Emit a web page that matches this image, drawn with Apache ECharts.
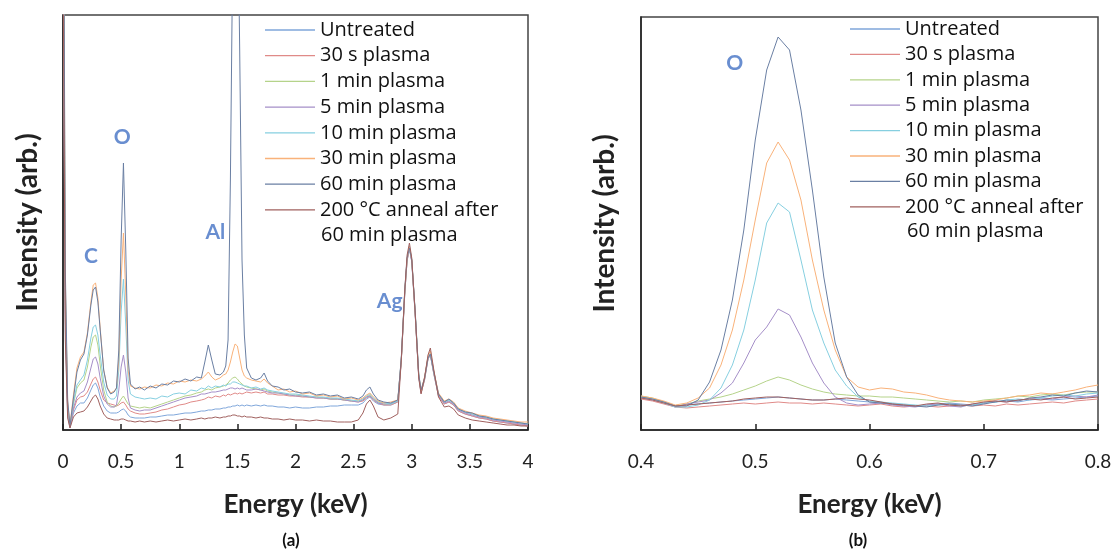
<!DOCTYPE html>
<html><head><meta charset="utf-8">
<script src="https://cdn.jsdelivr.net/npm/echarts@6/dist/echarts.min.js"></script>
<style>html,body{margin:0;padding:0;background:#fff}#c{width:1118px;height:552px}</style>
</head><body><div id="c"></div>
<script>
// ---------- DATA ----------
const seriesNames = ['Untreated','30 s plasma','1 min plasma','5 min plasma','10 min plasma','30 min plasma','60 min plasma','200 °C anneal after 60 min plasma'];

// Panel (a): energy grid (keV)
const energyA = [
 0.00,0.02,0.04,0.06,0.09,0.12,0.15,0.18,0.21,0.24,
 0.26,0.28,0.30,0.32,0.35,0.38,0.41,0.44,0.46,0.48,
 0.50,0.52,0.54,0.56,0.58,0.62,0.66,0.70,0.75,0.80,
 0.85,0.90,0.95,1.00,1.05,1.10,1.15,1.19,1.22,1.25,
 1.28,1.31,1.35,1.38,1.40,1.42,1.44,1.46,1.48,1.50,
 1.52,1.54,1.56,1.58,1.62,1.66,1.70,1.73,1.76,1.80,
 1.85,1.90,1.95,2.00,2.06,2.12,2.18,2.24,2.30,2.36,
 2.42,2.48,2.54,2.58,2.61,2.64,2.67,2.71,2.76,2.82,
 2.88,2.91,2.94,2.96,2.98,3.00,3.03,3.06,3.08,3.11,
 3.14,3.16,3.19,3.23,3.28,3.32,3.36,3.40,3.46,3.52,
 3.58,3.64,3.70,3.76,3.82,3.88,3.94,4.00];

const untreatedA = [
 500,100,15,2,17,24,27,27,32,40, 45,47,42,33,24,19,17,17,17,18,
 20,21,19,15,13,12,12,12,13,13, 14,15,15,16,17,17,18,19,19,20,
 20,21,21,22,22,23,23,24,24,25, 24,25,24,25,24,25,24,25,24,24,
 23,23,22,23,22,22,23,23,24,24, 25,25,25,27,31,33,29,26,25,25,
 28,69,136,169,181,168,114,53,37,50, 71,75,56,34,26,28,25,19,16,14,
 12,11,9,8,7,6,5,4];
const plasma30sA = [
 520,110,18,3,20,30,33,34,38,46, 51,53,48,40,30,27,26,25,24,25,
 27,28,25,21,19,17,16,16,17,18, 20,21,23,25,26,28,29,30,31,33,
 32,34,33,35,34,36,35,36,37,36, 37,36,37,38,37,38,37,38,36,36,
 35,35,34,34,33,33,32,32,31,31, 30,29,28,29,32,34,30,27,25,25,
 28,69,137,170,182,169,115,54,37,50, 71,75,56,34,26,28,25,19,16,14,
 12,11,9,8,7,6,5,4];
const plasma1mA = [
 580,130,22,3,26,42,47,50,63,83, 93,95,85,65,40,28,24,23,24,27,
 31,34,30,26,24,23,22,23,22,24, 26,28,30,32,34,35,37,38,40,41,
 40,42,43,44,45,47,50,52,53,51, 48,46,44,43,42,41,40,41,39,38,
 37,36,35,35,34,33,33,32,31,31, 30,29,29,30,33,35,31,28,26,26,
 29,70,138,171,183,170,116,55,38,51, 72,76,57,35,28,30,27,21,18,16,
 14,12,11,10,9,8,7,6];
const plasma5mA = [
 550,120,20,3,22,33,37,39,48,62, 71,73,66,52,34,26,23,23,25,40,
 63,75,58,32,22,20,19,20,20,22, 24,26,28,30,32,33,34,36,36,37,
 38,38,39,40,40,41,42,42,41,42, 41,42,41,40,40,41,40,39,38,37,
 37,36,35,34,34,33,32,32,31,31, 30,29,28,30,33,34,31,27,26,26,
 29,70,137,170,182,169,115,54,38,51, 72,76,57,35,27,29,26,20,17,15,
 13,12,10,9,8,7,6,5];
const plasma10mA = [
 600,140,25,4,28,45,50,55,70,92, 103,105,95,75,48,35,31,31,34,60,
 118,151,105,50,36,33,32,31,32,31, 34,33,36,37,36,40,39,42,41,44,
 42,44,43,45,44,46,46,48,48,47, 46,45,44,44,42,43,41,42,40,39,
 38,37,36,36,35,34,33,33,32,32, 31,30,29,31,34,36,32,28,27,26,
 29,71,139,172,184,171,117,56,39,52, 73,77,58,36,28,30,27,21,18,16,
 14,13,11,10,9,8,7,6];
const plasma30mA = [
 650,150,28,5,35,62,73,78,97,128, 145,147,132,102,60,43,37,39,42,70,
 150,197,135,60,44,42,41,43,42,45, 44,47,46,49,48,50,49,51,54,58,
 53,50,52,55,56,60,68,78,86,84, 72,60,54,52,50,49,48,51,47,44,
 40,41,38,39,36,37,34,35,33,34, 31,32,30,32,35,37,33,29,27,28,
 30,70,138,170,183,170,116,55,39,53, 74,79,59,37,29,31,28,22,19,17,
 15,14,12,11,10,9,8,8];
const plasma60mA = [
 700,160,30,4,32,58,70,76,95,125, 140,143,128,100,60,42,36,38,42,80,
 190,267,180,72,46,41,43,40,44,42, 46,45,49,48,51,49,53,52,68,85,
 70,56,55,58,64,90,250,480,600,560, 380,170,95,62,52,50,52,57,49,44,
 43,40,41,38,37,38,35,36,34,35, 32,33,31,34,40,43,36,30,28,27,
 30,72,140,172,182,170,118,56,40,52, 72,76,58,36,28,31,27,21,18,17,
 14,13,11,10,9,8,7,6];
const annealA = [
 480,90,12,2,13,17,18,19,23,29, 33,35,31,24,16,12,11,10,10,10,
 11,11,10,9,9,8,9,8,9,8, 9,10,9,10,11,10,11,12,11,12,
 12,13,12,13,13,14,14,15,15,14, 14,13,14,13,13,12,13,12,12,11,
 11,10,11,10,10,9,10,9,9,8, 8,8,10,17,26,30,24,13,10,12,
 16,70,140,175,187,172,116,52,36,52, 75,82,60,33,23,24,21,15,12,10,
 9,8,7,6,5,5,4,4];

// Panel (b): O peak region
const energyB = [0.40,0.41,0.42,0.43,0.44,0.45,0.46,0.47,0.48,0.49,
 0.50,0.51,0.52,0.53,0.54,0.55,0.56,0.57,0.58,0.59,
 0.60,0.61,0.62,0.63,0.64,0.65,0.66,0.67,0.68,0.69,
 0.70,0.71,0.72,0.73,0.74,0.75,0.76,0.77,0.78,0.79,0.80];
const untreatedB = [33,31,28,24,25,26,27,28,29,30, 31,32,33,32,31,30,30,31,30,29, 28,27,26,24,24,25,26,27,26,25, 27,28,29,28,30,31,30,31,32,33, 34];
const plasma30sB = [31,29,26,23,22,23,24,25,26,27, 26,27,28,27,27,26,27,26,25,24, 25,26,24,23,24,24,23,24,25,24, 25,24,26,25,26,27,28,27,29,30, 31];
const plasma1mB  = [34,32,28,24,26,29,31,33,36,40, 44,49,53,50,45,41,38,36,35,34, 34,33,33,32,31,30,29,28,29,28, 30,31,32,34,33,35,36,35,37,38, 38];
const plasma5mB  = [32,30,27,23,26,28,30,37,47,67, 90,103,121,115,93,67,47,33,27,25, 26,27,25,24,23,25,26,24,23,26, 27,29,28,30,31,32,31,33,34,33, 35];
const plasma10mB = [33,31,27,23,23,25,30,42,65,100, 150,207,227,218,170,120,87,60,44,33, 29,28,27,26,25,24,25,26,24,25, 27,28,30,31,30,32,34,35,34,36, 37];
const plasma30mB = [34,32,29,25,27,32,42,65,100,150, 210,267,288,270,230,170,120,80,53,43, 40,42,41,38,37,35,32,30,29,28, 29,30,32,34,35,37,36,38,40,43, 45];
const plasma60mB = [33,31,28,24,24,30,48,80,130,200, 290,360,393,380,320,240,153,87,53,35, 28,27,26,25,24,23,25,26,25,24, 26,28,30,29,32,33,35,34,37,39, 38];
const annealB    = [32,30,27,24,25,26,27,28,29,31, 32,33,33,32,31,30,30,31,32,31, 30,28,26,25,24,26,27,25,24,26, 28,29,28,30,31,30,32,33,31,32, 33];

// Peak labels
const labelsA = ['C','O','Al','Ag'];
const labelEnergyA = [0.24, 0.51, 1.31, 2.81];
const labelIntensityA = [174, 293, 198, 129];
const labelsB = ['O'];
const labelEnergyB = [0.482];
const labelIntensityB = [367];

// ---------- STYLE ----------
const colors = ['#7FA6DA','#E08A88','#B5D38A','#A58FC8','#86CFE0','#F9B27A','#6A7FA3','#A0605E'];
const FONT = 'Lato, "Open Sans", sans-serif';
const LFONT = '"Open Sans", Lato, sans-serif';
const dataA = [untreatedA, plasma30sA, plasma1mA, plasma5mA, plasma10mA, plasma30mA, plasma60mA, annealA];
const dataB = [untreatedB, plasma30sB, plasma1mB, plasma5mB, plasma10mB, plasma30mB, plasma60mB, annealB];

const series = [];
seriesNames.forEach((n, k) => {
  series.push({type:'line', name:n, xAxisIndex:0, yAxisIndex:0, symbol:'none', silent:true,
    data: energyA.map((e,i)=>[e, dataA[k][i]]), lineStyle:{width:1, color:colors[k]}, itemStyle:{color:colors[k]}});
});
seriesNames.forEach((n, k) => {
  series.push({type:'line', name:n, xAxisIndex:1, yAxisIndex:1, symbol:'none', silent:true,
    data: energyB.map((e,i)=>[e, dataB[k][i]]), lineStyle:{width:1, color:colors[k]}, itemStyle:{color:colors[k]}});
});
const annLabel = {show:true, position:'inside', color:'#4472C4', fontWeight:'bold', fontSize:21, fontFamily:FONT};
series.push({type:'scatter', xAxisIndex:0, yAxisIndex:0, symbolSize:1, silent:true, itemStyle:{color:'rgba(0,0,0,0)'},
  data: labelsA.map((t,i)=>({value:[labelEnergyA[i], labelIntensityA[i]], label:Object.assign({formatter:t}, annLabel)}))});
series.push({type:'scatter', xAxisIndex:1, yAxisIndex:1, symbolSize:1, silent:true, itemStyle:{color:'rgba(0,0,0,0)'},
  data: labelsB.map((t,i)=>({value:[labelEnergyB[i], labelIntensityB[i]], label:Object.assign({formatter:t}, annLabel)}))});

const axisLineStyle = {show:true, lineStyle:{color:'#222', width:1.5}};
const xCommon = {type:'value', axisLine:axisLineStyle, splitLine:{show:false},
  axisTick:{show:true, inside:true, length:6, lineStyle:{color:'#222', width:1.5}},
  axisLabel:{fontSize:19, color:'#222', fontFamily:FONT, margin:22},
  name:'Energy (keV)', nameLocation:'middle', nameGap:62,
  nameTextStyle:{fontSize:26, fontWeight:'bold', color:'#222', fontFamily:FONT}};
const yCommon = {type:'value', min:0, axisLine:axisLineStyle, axisTick:{show:false}, axisLabel:{show:false}, splitLine:{show:false},
  name:'Intensity (arb.)', nameLocation:'middle', nameGap:21,
  nameTextStyle:{fontSize:28, fontWeight:'bold', color:'#222', fontFamily:FONT}};

const legendText = {fontSize:20, lineHeight:22, color:'#111', fontFamily:LFONT};
const legendFmt = n => n.indexOf('200') === 0 ? '200 °C anneal after' : n;

const option = {
  animation:false,
  grid:[
    {left:63, top:15, width:465, height:415, show:true, borderColor:'#444', borderWidth:1.5},
    {left:641, top:17, width:457, height:413, show:true, borderColor:'#444', borderWidth:1.5}
  ],
  xAxis:[
    Object.assign({}, xCommon, {gridIndex:0, min:0, max:4, interval:0.5}),
    Object.assign({}, xCommon, {gridIndex:1, min:0.4, max:0.8, interval:0.1})
  ],
  yAxis:[
    Object.assign({}, yCommon, {gridIndex:0, max:415}),
    Object.assign({}, yCommon, {gridIndex:1, max:413, nameGap:22})
  ],
  legend:[
    {data:seriesNames, orient:'vertical', left:265, top:19, padding:0, icon:'rect', itemWidth:50, itemHeight:1.3, itemGap:3.7,
     textStyle:legendText, formatter:legendFmt, selectedMode:false},
    {data:seriesNames, orient:'vertical', left:850, top:18, padding:0, icon:'rect', itemWidth:50, itemHeight:1.3, itemGap:3.4,
     textStyle:legendText, formatter:legendFmt, selectedMode:false}
  ],
  graphic:[
    {type:'text', left:321, top:225, style:{text:'60 min plasma', fontSize:20, fontFamily:LFONT, fill:'#111'}},
    {type:'text', left:907, top:221, style:{text:'60 min plasma', fontSize:20, fontFamily:LFONT, fill:'#111'}},
    {type:'text', x:291, y:541, style:{text:'(a)', fontSize:17, fontWeight:'bold', fontFamily:FONT, fill:'#111', align:'center', verticalAlign:'middle'}},
    {type:'text', x:858, y:541, style:{text:'(b)', fontSize:17, fontWeight:'bold', fontFamily:FONT, fill:'#111', align:'center', verticalAlign:'middle'}}
  ],
  series:series
};
const chart = echarts.init(document.getElementById('c'), null, {renderer:'canvas'});
chart.setOption(option);
</script></body></html>
